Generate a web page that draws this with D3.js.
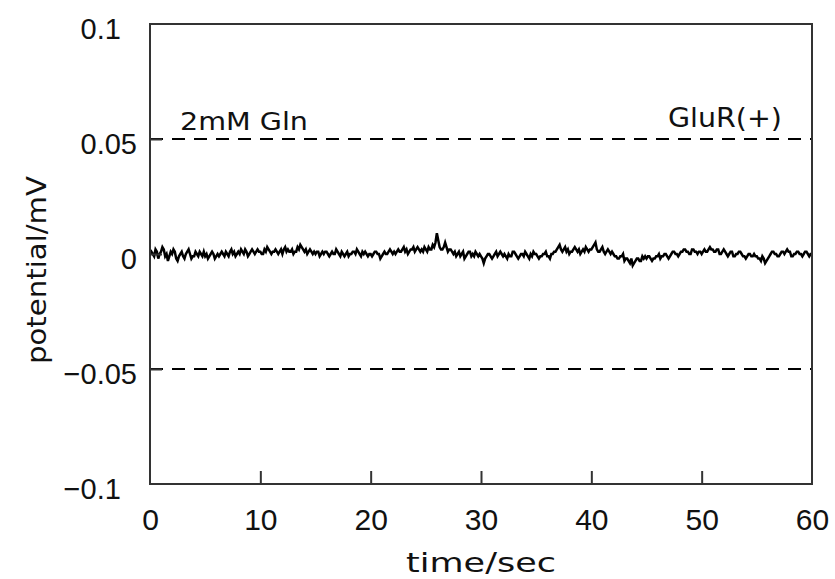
<!DOCTYPE html>
<meta charset="utf-8">
<style>
body { margin: 0; background: #fff; }
text { font-family: "Liberation Sans", Arial, sans-serif; fill: #111; }
.label { font-family: "DejaVu Sans", sans-serif; }
.axis path, .axis line { stroke: #333; stroke-width: 2px; }
.trace { fill: none; stroke: #000; stroke-width: 2.5px; stroke-linejoin: miter; }
.ref { stroke: #000; stroke-width: 2px; stroke-dasharray: 13,9; }
</style>
<body>
<script src="https://d3js.org/d3.v7.min.js"></script>
<script>
// tick values / labels
var xTicks = [0, 10, 20, 30, 40, 50, 60];
var yTicks = [0.1, 0.05, 0, -0.05, -0.1];
var yTickLabels = ["0.1\u2007", "0.05", "0", "\u22120.05", "\u22120.1\u2007"];
var refLevels = [0.05, -0.05];
var rowSpan = 5; // sec covered by each trace row

// potential trace in microvolts, one row per 5 sec
var trace0_5   = [0,1,0,-1,2,1,-2,0,1,3,2,-1,0,-3,-1,1,0,2,1,-2,-3,-1,0,1,-1,-2,0,1,2,0,-2,-1,-1,1,0,-1,1,0,-1,1];
var trace5_10  = [-1,0,-2,-1,0,1,0,-2,-1,0,-1,0,1,0,-1,1,0,-1,1,2,0,1,-1,0,1,0,2,1,0,2,1,-1,0,1,2,1,0,1,2,1];
var trace10_15 = [1,0,0,2,1,3,2,1,0,1,1,2,1,0,1,2,0,2,3,1,2,1,1,2,0,1,1,3,2,4,3,2,1,2,0,1,2,1,0,1];
var trace15_20 = [0,1,1,-1,0,1,0,1,1,0,-1,0,1,0,0,2,1,0,-1,1,0,-1,0,1,-1,0,0,1,1,0,2,1,0,-1,1,0,1,0,-1,0];
var trace20_25 = [0,-1,0,1,1,0,0,-2,-1,0,1,0,0,1,2,1,0,1,0,1,2,1,1,2,3,1,2,0,1,2,2,3,1,2,3,2,1,2,1,3];
var trace25_30 = [2,1,3,2,2,4,3,5,9,6,3,2,2,3,5,3,1,2,2,1,0,1,-1,0,1,-1,0,1,-2,-1,0,1,1,-1,0,-1,1,0,-1,0];
var trace30_35 = [-1,-2,-4,-2,-1,0,0,-1,-2,-1,0,1,-1,0,1,0,-1,0,-1,-2,0,-1,-1,1,1,0,-1,-2,-1,0,0,-1,1,0,-1,-2,0,-1,1,0];
var trace35_40 = [0,-1,-2,-1,-1,0,0,1,-1,-1,-2,0,0,1,1,2,3,4,2,1,2,3,1,2,0,1,1,2,3,2,1,2,0,1,2,1,3,2,1,2];
var trace40_45 = [2,3,4,5,2,1,1,2,3,1,0,1,2,1,0,1,0,-1,-1,-2,-2,-1,-1,0,-3,-2,-2,-3,-4,-2,-5,-4,-3,-2,-2,-3,-3,-1,-2,-1];
var trace45_50 = [-2,-1,-1,-2,-3,-2,-2,-1,-1,0,-2,-1,-1,0,0,-1,-2,-1,0,1,1,0,0,-1,0,1,1,2,2,1,1,0,0,2,2,1,1,0,1,1];
var trace50_55 = [0,1,2,1,1,2,3,2,2,1,1,2,2,0,0,1,2,1,0,-1,0,1,1,-1,-1,0,0,1,1,0,-1,-1,-2,-1,0,0,-1,-1,0,-1];
var trace55_60 = [-1,-2,-2,-3,-1,-2,-4,-3,-2,-1,0,1,1,0,0,-1,-1,0,1,1,0,1,2,1,1,-1,-1,0,0,1,1,0,0,-1,0,1,1,0,-1,0];
var traceEnd   = 0; // value at t = 60

var margin = { top: 24, right: 23, bottom: 95, left: 150 },
    width = 835 - margin.left - margin.right,
    height = 579 - margin.top - margin.bottom;

var svg = d3.select("body").append("svg")
    .attr("width", 835)
    .attr("height", 579);

var g = svg.append("g")
    .attr("transform", "translate(" + margin.left + "," + margin.top + ")");

var x = d3.scaleLinear().domain([0, 60]).range([0, width]);
var y = d3.scaleLinear().domain([-0.1, 0.1]).range([height, 0]);

var rows = [trace0_5, trace5_10, trace10_15, trace15_20, trace20_25, trace25_30,
    trace30_35, trace35_40, trace40_45, trace45_50, trace50_55, trace55_60];
var data = [];
rows.forEach(function(row, r) {
    row.forEach(function(v, j) {
        data.push({ t: r * rowSpan + j * rowSpan / row.length, mv: v / 1000 });
    });
});
data.push({ t: 60, mv: traceEnd / 1000 });

// dashed reference lines
g.selectAll(".ref")
    .data(refLevels)
    .enter().append("line")
    .attr("class", "ref")
    .attr("x1", 0).attr("x2", width)
    .attr("y1", function(d) { return y(d); })
    .attr("y2", function(d) { return y(d); });

// trace
var line = d3.line()
    .x(function(d) { return x(d.t); })
    .y(function(d) { return y(d.mv); });

g.append("path")
    .datum(data)
    .attr("class", "trace")
    .attr("d", line);

// frame
g.append("rect")
    .attr("width", width).attr("height", height)
    .attr("fill", "none").attr("stroke", "#333").attr("stroke-width", 2);

var xAxis = g.append("g")
    .attr("class", "axis")
    .attr("transform", "translate(0," + height + ")")
    .call(d3.axisBottom(x).tickValues(xTicks).tickSizeInner(-13).tickSizeOuter(0).tickPadding(25));
xAxis.select(".domain").remove();
xAxis.selectAll("text").attr("font-size", "30px").attr("font-family", null);

var yAxis = g.append("g")
    .attr("class", "axis")
    .call(d3.axisLeft(y).tickValues(yTicks).tickSizeInner(-12).tickSizeOuter(0).tickPadding(13)
        .tickFormat(function(d, i) { return yTickLabels[i]; }));
yAxis.select(".domain").remove();
yAxis.selectAll("text").attr("font-size", "29px").attr("font-family", null).attr("dy", "0.5em");

// hide ticks that sit on the frame corners
xAxis.selectAll(".tick line").filter(function(d) { return d === 0 || d === 60; }).remove();
yAxis.selectAll(".tick line").filter(function(d) { return d === 0.1 || d === -0.1; }).remove();

// annotations
g.append("text")
    .attr("class", "label")
    .attr("x", 30).attr("y", 106)
    .attr("font-size", "25px")
    .attr("textLength", 128).attr("lengthAdjust", "spacingAndGlyphs")
    .text("2mM Gln");

g.append("text")
    .attr("class", "label")
    .attr("x", 518).attr("y", 103)
    .attr("font-size", "26px")
    .attr("textLength", 114).attr("lengthAdjust", "spacingAndGlyphs")
    .text("GluR(+)");

// axis titles
svg.append("text")
    .attr("class", "label")
    .attr("x", margin.left + width / 2).attr("y", 572)
    .attr("text-anchor", "middle")
    .attr("font-size", "27px")
    .attr("textLength", 150).attr("lengthAdjust", "spacingAndGlyphs")
    .text("time/sec");

svg.append("text")
    .attr("class", "label")
    .attr("transform", "translate(46," + (margin.top + height / 2 + 16) + ") rotate(-90)")
    .attr("text-anchor", "middle")
    .attr("font-size", "26px")
    .attr("textLength", 188).attr("lengthAdjust", "spacingAndGlyphs")
    .text("potential/mV");
</script>
</body>
